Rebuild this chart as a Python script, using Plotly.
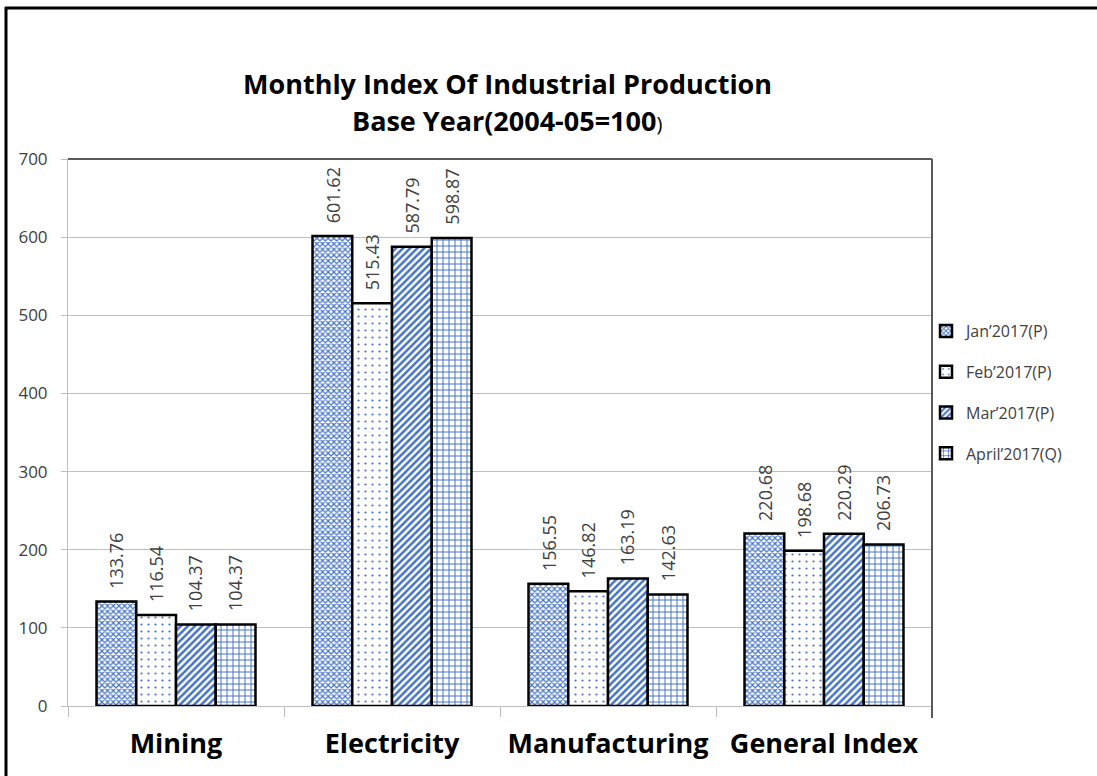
import plotly.graph_objects as go

categories = ["Mining", "Electricity", "Manufacturing", "General Index"]
series_names = ["Jan\u20192017(P)", "Feb\u20192017(P)", "Mar\u20192017(P)", "April\u20192017(Q)"]
jan = [133.76, 601.62, 156.55, 220.68]
feb = [116.54, 515.43, 146.82, 198.68]
mar = [104.37, 587.79, 163.19, 220.29]
apr = [104.37, 598.87, 142.63, 206.73]
values = [jan, feb, mar, apr]

BLUE = "#4472C4"
patterns = [
    dict(shape="x", size=4, solidity=0.5),
    dict(shape=".", size=7, solidity=0.08),
    dict(shape="/", size=5, solidity=0.5),
    dict(shape="+", size=6, solidity=0.3),
]

FONT = "'Open Sans', Lato, sans-serif"

W, H = 1097, 776
L, R, T, B = 68, 932, 159, 706
BARGAP = 0.264


def px_x(px):
    return (px - L) / (R - L)


def px_y(py):
    return (B - py) / (B - T)


fig = go.Figure()
cat_w = (R - L) / len(categories)
bar_w = cat_w * (1 - BARGAP) / len(values)
for i, (name, vals) in enumerate(zip(series_names, values)):
    p = patterns[i]
    fig.add_trace(go.Bar(
        x=categories, y=vals, name=name, legendgroup=f"g{i}",
        marker=dict(color="white",
                    line=dict(color="black", width=2.5),
                    pattern=dict(shape=p["shape"], size=p["size"], solidity=p["solidity"],
                                 fgcolor=BLUE, bgcolor="white", fillmode="replace")),
    ))
    shift = (i - (len(values) - 1) / 2) * bar_w
    for c, v in zip(categories, vals):
        fig.add_annotation(x=c, y=v, xref="x", yref="y", text=f"{v:.2f}",
                           textangle=-90, showarrow=False, xanchor="center", yanchor="bottom",
                           xshift=shift, yshift=11,
                           font=dict(size=18, color="#404040", family=FONT))

# title lines
fig.add_annotation(text="<b>Monthly Index Of Industrial Production</b>", xref="paper", yref="paper",
                   x=px_x(507), y=px_y(83), xanchor="center", yanchor="middle", showarrow=False,
                   font=dict(size=27, color="black", family=FONT))
fig.add_annotation(text="<b>Base Year(2004-05=100</b><span style='font-size:20px'>)</span>",
                   xref="paper", yref="paper",
                   x=px_x(507), y=px_y(120), xanchor="center", yanchor="middle", showarrow=False,
                   font=dict(size=27, color="black", family=FONT))

fig.update_layout(
    width=W, height=H,
    margin=dict(l=L, r=W - R, t=T, b=H - B, pad=0),
    paper_bgcolor="white", plot_bgcolor="white",
    font=dict(family=FONT, color="#404040"),
    barmode="group", bargap=BARGAP, bargroupgap=0,
    legend=dict(x=px_x(926), y=px_y(314), xanchor="left", yanchor="top",
                font=dict(size=16, color="#404040", family=FONT),
                traceorder="grouped", tracegroupgap=17, bgcolor="rgba(0,0,0,0)"),
    showlegend=True,
)
fig.update_yaxes(range=[0, 700], dtick=100, showgrid=True, gridcolor="#bfbfbf", gridwidth=1,
                 showline=True, linecolor="#bfbfbf", linewidth=1,
                 ticks="outside", ticklen=6, tickcolor="#bfbfbf",
                 tickfont=dict(size=17, color="#404040", family=FONT), zeroline=False,
                 ticklabelstandoff=10)
fig.update_xaxes(showline=True, linecolor="#bfbfbf", linewidth=1,
                 ticks="outside", ticklen=10, tickcolor="#bfbfbf", tickson="boundaries",
                 tickfont=dict(size=27, color="black", family=FONT),
                 tickprefix="<b>", ticksuffix="</b>", ticklabelstandoff=14)

# plot-area border (top and right) and outer chart frame (top and left)
fig.add_shape(type="line", xref="paper", yref="paper", x0=0, x1=1, y0=1, y1=1,
              line=dict(color="#595959", width=2))
fig.add_shape(type="line", xref="paper", yref="paper", x0=1, x1=1, y0=px_y(718), y1=1,
              line=dict(color="#595959", width=2))
fig.add_shape(type="line", xref="paper", yref="paper", x0=px_x(5), x1=px_x(1110), y0=px_y(8), y1=px_y(8),
              line=dict(color="black", width=3))
fig.add_shape(type="line", xref="paper", yref="paper", x0=px_x(6), x1=px_x(6), y0=px_y(7), y1=px_y(790),
              line=dict(color="black", width=3))

fig.write_html("out.html", config={"displayModeBar": False},
               post_script="document.body.style.margin='0';")
